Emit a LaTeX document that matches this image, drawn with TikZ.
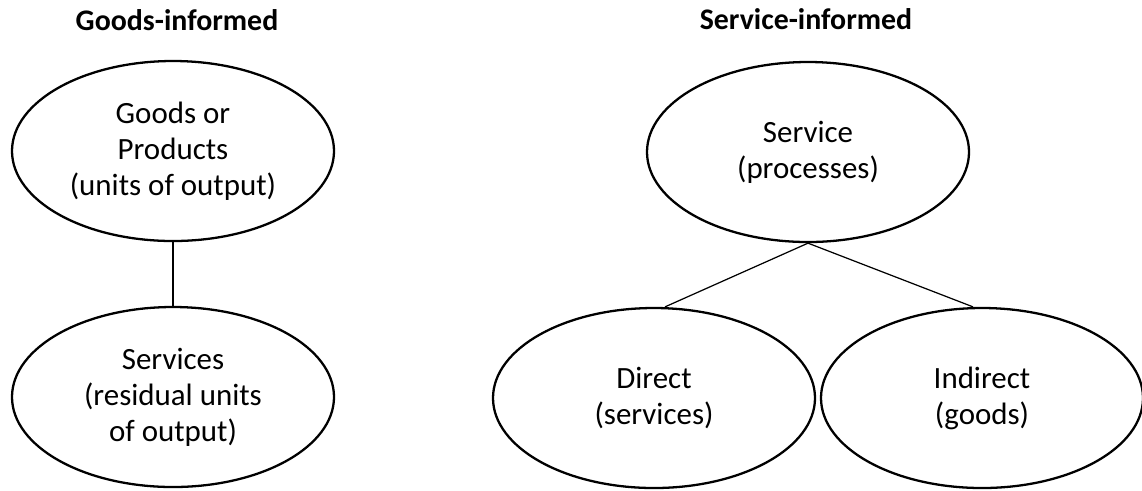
\documentclass[tikz,border=0pt]{standalone}
\usepackage{fontspec}
\setmainfont{Carlito}
\usetikzlibrary{shapes.geometric}
\tikzset{
	oval/.style={ellipse, draw, line width=1.3pt, inner sep=0pt,
		minimum width=6.44cm, minimum height=3.6cm, align=center,
		font=\fontsize{17.6}{20.5}\selectfont},
	heading/.style={anchor=base, font=\fontsize{17}{20}\selectfont\bfseries},
	link/.style={line width=0.7pt}
}
\begin{document}
\begin{tikzpicture}
		\useasboundingbox (0,0) rectangle (22.84,-9.8);
		% Headings
		\node [heading] (goodshead) at (3.54,-0.6) {Goods-informed};
		\node [heading] (servhead) at (16.12,-0.58) {Service-informed};
		% Goods side
		\node [oval] (goods) at (3.46,-3.02) {Goods or\\Products\\(units of output)};
		\node [oval] (resid) at (3.46,-7.94) {Services\\(residual units\\of output)};
		\draw [link] (goods.south) -- (resid.north);
		% Service side
		\node [oval] (serv) at (16.16,-3.04) {Service\\(processes)};
		\node [oval] (direct) at (13.08,-7.96) {Direct\\(services)};
		\node [oval] (indirect) at (19.64,-7.96) {Indirect\\(goods)};
		\draw [link] (serv.south) -- ([xshift=0.22cm]direct.north);
		\draw [link] (serv.south) -- ([xshift=-0.18cm]indirect.north);
\end{tikzpicture}
\end{document}
